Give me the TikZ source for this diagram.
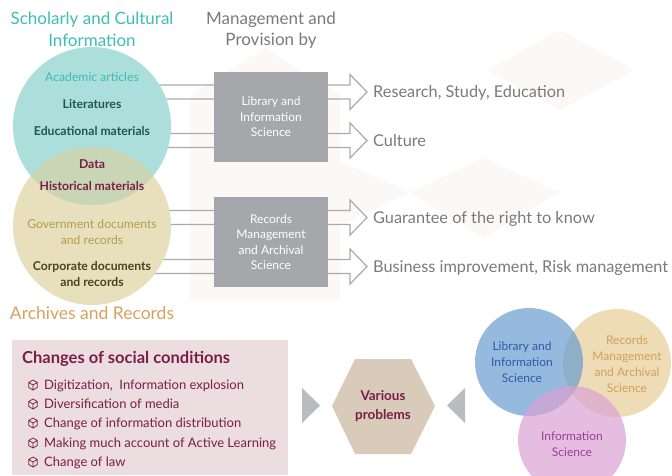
\documentclass[tikz,border=0pt]{standalone}
\usepackage{fontspec}
\setmainfont{Lato}
\usetikzlibrary{calc}
\definecolor{tealfill}{HTML}{ACDEDB}
\definecolor{tanfill}{HTML}{E8DFBD}
\definecolor{ovfill}{HTML}{C8D6B6}
\definecolor{tealtxt}{HTML}{3DBDB4}
\definecolor{darkteal}{HTML}{1E5752}
\definecolor{maroon}{HTML}{7B1D48}
\definecolor{olivetxt}{HTML}{B39E4C}
\definecolor{darkolive}{HTML}{4A4220}
\definecolor{archtxt}{HTML}{D6A25E}
\definecolor{graytxt}{HTML}{7A7A7E}
\definecolor{boxgray}{HTML}{A6A7AB}
\definecolor{arrowgray}{HTML}{A9AAAE}
\definecolor{pinkbox}{HTML}{ECDDE1}
\definecolor{hexfill}{HTML}{D8CBB9}
\definecolor{trigray}{HTML}{B9BBBF}
\definecolor{vblue}{HTML}{689CD0}
\definecolor{vtan}{HTML}{E5CD96}
\definecolor{vpink}{HTML}{DAA1D3}
\definecolor{vbluetxt}{HTML}{2C5BA8}
\definecolor{vtantxt}{HTML}{D4A058}
\definecolor{vpinktxt}{HTML}{9B3E9E}
\definecolor{bgshape}{HTML}{FCF8F6}
\newcommand\hollowarrow[2]{%
  \draw[arrowline] ($(#1)+(0,-7)$) -- ($(#2)+(-17,-7)$) -- ($(#2)+(-17,-17.5)$) -- (#2)
    -- ($(#2)+(-17,17.5)$) -- ($(#2)+(-17,7)$) -- ($(#1)+(0,7)$);}
\begin{document}
\begin{tikzpicture}[x=1pt,y=-1pt,
  arrowline/.style={draw=arrowgray, line width=1.2pt, line join=miter},
  graybox/.style={fill=boxgray, minimum width=114pt, minimum height=90pt, text=white,
     align=center, font=\fontsize{12}{15.5}\selectfont, inner sep=0pt},
  ctext/.style={anchor=base, inner sep=0pt, font=\fontsize{12.2}{14}\selectfont},
  cbold/.style={ctext, font=\fontsize{12.2}{14}\selectfont\bfseries},
  outtext/.style={anchor=base west, inner sep=0pt, text=graytxt, font=\fontsize{16.3}{19}\selectfont},
  itemtext/.style={anchor=base west, inner sep=0pt, text=maroon, font=\fontsize{13}{15}\selectfont},
  venntext/.style={align=center, inner sep=0pt, font=\fontsize{12}{16}\selectfont},
  cube/.pic={\draw[maroon, line width=0.75pt, line join=round]
     (0,-5) -- (4.33,-2.5) -- (4.33,2.5) -- (0,5) -- (-4.33,2.5) -- (-4.33,-2.5) -- cycle
     (-4.33,-2.5) -- (0,0) -- (4.33,-2.5) (0,0) -- (0,5);}
]
\useasboundingbox (0,0) rectangle (672,475);
% faint background shapes
\fill[bgshape] (487,70) -- (560,30) -- (635,70) -- (560,110) -- cycle;
\fill[bgshape] (410,192) -- (483,158) -- (560,192) -- (483,238) -- cycle;
\fill[bgshape] (330,157) -- (410,192) -- (330,230) -- cycle;
\fill[bgshape] (190,95) -- (265,48) -- (340,95) -- (340,300) -- (190,300) -- cycle;

% headers
\node[align=center, inner sep=0pt, text=tealtxt, font=\fontsize{17}{22}\selectfont] (hsch) at (92,29) {Scholarly and Cultural\\Information};
\node[align=center, inner sep=0pt, text=graytxt, font=\fontsize{17}{21}\selectfont] (hman) at (271,30) {Management and\\Provision by};

% output texts and arrow tips
\coordinate (tip1) at (367,92);
\coordinate (tip2) at (367,140.5);
\coordinate (tip3) at (367,217.5);
\coordinate (tip4) at (367,266.5);
\node[outtext] (o1) at (373,97.5) {Research, Study, Education};
\node[outtext] (o2) at (373,146) {Culture};
\node[outtext] (o3) at (373,223) {Guarantee of the right to know};
\node[outtext] (o4) at (373,272) {Business improvement, Risk management};

% circle centers
\coordinate (tc) at (92,126);
\coordinate (ac) at (92,226);
\coordinate (s1) at (tc |- tip1);
\coordinate (s2) at (tc |- tip2);
\coordinate (s3) at (ac |- tip3);
\coordinate (s4) at (ac |- tip4);
\hollowarrow{s1}{tip1}
\hollowarrow{s2}{tip2}
\hollowarrow{s3}{tip3}
\hollowarrow{s4}{tip4}

% gray boxes
\node[graybox] (lis) at (271,117) {Library and\\Information\\Science};
\node[graybox] (rmas) at (271,242) {Records\\Management\\and Archival\\Science};

% left circles
\node[circle, fill=tealfill, minimum size=158pt, inner sep=0pt] (teal) at (tc) {};
\node[circle, fill=tanfill, minimum size=158pt, inner sep=0pt] (tan) at (ac) {};
\begin{scope}
  \clip (tc) circle (79);
  \fill[ovfill] (ac) circle (79);
\end{scope}

\node[ctext, text=tealtxt] (c1) at (92,81.5) {Academic articles};
\node[cbold, text=darkteal] (c2) at (92,108.5) {Literatures};
\node[cbold, text=darkteal] (c3) at (92,135.5) {Educational materials};
\node[cbold, text=maroon] (c4) at (92,168.5) {Data};
\node[cbold, text=maroon] (c5) at (92,190.5) {Historical materials};
\node[ctext, text=olivetxt] (c6) at (92,228.5) {Government documents};
\node[ctext, text=olivetxt] (c6b) at (92,244.5) {and records};
\node[cbold, text=darkolive] (c7) at (92,270.5) {Corporate documents};
\node[cbold, text=darkolive] (c7b) at (92,286.5) {and records};
\node[anchor=base, inner sep=0pt, text=archtxt, font=\fontsize{17.5}{20}\selectfont] (arch) at (92,319) {Archives and Records};

% changes box
\fill[pinkbox] (12,340) rectangle (288,475);
\node[anchor=base west, inner sep=0pt, text=maroon, font=\fontsize{16.5}{18}\selectfont\bfseries] (chg) at (22,363.5) {Changes of social conditions};
\foreach \yy/\tt [count=\i] in {385/{Digitization,\ \ Information explosion},404/{Diversification of media},423/{Change of information distribution},443/{Making much account of Active Learning},462/{Change of law}}{
  \pic at (33,\yy) {cube};
  \node[itemtext] (it\i) at (44,\yy+4.7) {\tt};
}

% various problems
\fill[hexfill] (332,406) -- (355,359) -- (411,359) -- (435,406) -- (411,454) -- (355,454) -- cycle;
\node[align=center, inner sep=0pt, text=maroon, font=\fontsize{13.5}{19}\selectfont\bfseries] (vp) at (383,406) {Various\\problems};
\fill[trigray] (302,388) -- (320,405.5) -- (302,423) -- cycle;
\fill[trigray] (465,388) -- (447,405.5) -- (465,423) -- cycle;

% venn
\node[circle, fill=vtan, fill opacity=0.7, minimum size=108pt, inner sep=0pt] (vt) at (617,363) {};
\node[circle, fill=vblue, fill opacity=0.7, minimum size=108pt, inner sep=0pt] (vb) at (529,362) {};
\node[circle, fill=vpink, fill opacity=0.7, minimum size=108pt, inner sep=0pt] (vpk) at (572,440) {};
\node[venntext, text=vbluetxt] (vbt) at (522,362) {Library and\\Information\\Science};
\node[venntext, text=vtantxt] (vtt) at (627,364) {Records\\Management\\and Archival\\Science};
\node[venntext, text=vpinktxt] (vpt) at (572,444) {Information\\Science};
\end{tikzpicture}
\end{document}
